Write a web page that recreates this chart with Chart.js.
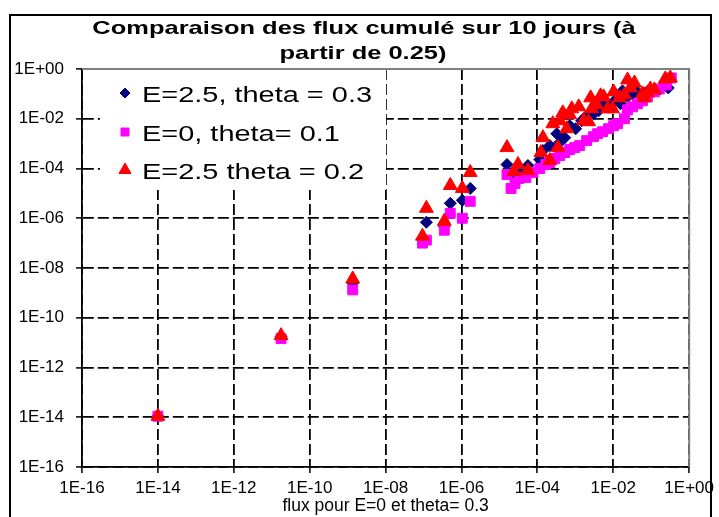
<!DOCTYPE html>
<html><head><meta charset="utf-8">
<script src="https://cdn.jsdelivr.net/npm/chart.js@4/dist/chart.umd.min.js"></script>
<style>html,body{margin:0;padding:0;background:#fff;}canvas{display:block;}</style>
</head><body>
<canvas id="c" width="719" height="517"></canvas>
<script>
const titleLines = ['Comparaison des flux cumulé sur 10 jours (à', 'partir de 0.25)'];
const xAxisTitle = 'flux pour E=0 et theta= 0.3';
const seriesNames = ['E=2.5, theta = 0.3', 'E=0, theta= 0.1', 'E=2.5 theta = 0.2'];
const tickValues = [1e-16, 1e-14, 1e-12, 1e-10, 1e-8, 1e-6, 1e-4, 1e-2, 1];
const tickLabels = ['1E-16', '1E-14', '1E-12', '1E-10', '1E-08', '1E-06', '1E-04', '1E-02', '1E+00'];

const blueX = [1e-14, 1.76e-11, 1.36e-9, 9.35e-8, 1.19e-7, 3.53e-7, 5.07e-7, 1.05e-6, 1.7e-6, 1.58e-5, 2.42e-5, 3.48e-5, 5.64e-5, 1.16e-4, 1.40e-4, 2.13e-4, 3.25e-4, 3.89e-4, 5.27e-4, 7.13e-4, 1.02e-3, 1.47e-3, 1.87e-3, 3.03e-3, 4.10e-3, 5.55e-3, 7.52e-3, 1.02e-2, 1.55e-2, 1.75e-2, 2.37e-2, 3.20e-2, 4.33e-2, 7.01e-2, 0.107, 0.173, 0.281];
const blueY = [1.1e-14, 1.74e-11, 2.51e-9, 1.45e-7, 6.92e-7, 4.79e-7, 3.98e-6, 5.25e-6, 1.58e-5, 1.45e-4, 4.79e-5, 1e-4, 1.32e-4, 2.29e-4, 5.25e-4, 8.32e-4, 2.51e-3, 1.10e-3, 1.74e-3, 5.25e-3, 3.98e-3, 8.32e-3, 1.20e-2, 1.58e-2, 2.09e-2, 3.63e-2, 3.02e-2, 4.79e-2, 3.98e-2, 0.132, 7.59e-2, 0.1, 0.120, 0.110, 0.132, 0.158, 0.174];

const pinkX = [1e-14, 1.76e-11, 1.36e-9, 9.35e-8, 1.19e-7, 3.53e-7, 5.07e-7, 1.05e-6, 1.7e-6, 1.58e-5, 2.02e-5, 2.57e-5, 3.27e-5, 5.0e-5, 7.62e-5, 1.16e-4, 1.67e-4, 2.13e-4, 2.88e-4, 3.89e-4, 5.27e-4, 7.13e-4, 9.64e-4, 1.30e-3, 1.99e-3, 3.03e-3, 3.86e-3, 5.22e-3, 7.52e-3, 1.02e-2, 1.29e-2, 1.97e-2, 2.37e-2, 3.20e-2, 4.33e-2, 5.85e-2, 7.91e-2, 0.121, 0.163, 0.249, 0.337];
const pinkY = [1.1e-14, 1.45e-11, 1.32e-9, 1e-7, 1.32e-7, 3.31e-7, 1.58e-6, 1e-6, 4.79e-6, 5.75e-5, 1.58e-5, 2.51e-5, 3.98e-5, 4.37e-5, 6.92e-5, 1e-4, 1.45e-4, 1.74e-4, 2.51e-4, 3.31e-4, 4.37e-4, 5.75e-4, 6.92e-4, 8.32e-4, 1.32e-3, 1.91e-3, 2.51e-3, 3.02e-3, 3.98e-3, 5.25e-3, 6.31e-3, 1e-2, 2.29e-2, 3.02e-2, 3.98e-2, 5.25e-2, 7.59e-2, 0.120, 0.158, 0.229, 0.437];

const redX = [1e-14, 1.76e-11, 1.36e-9, 9.35e-8, 1.19e-7, 3.53e-7, 5.07e-7, 1.05e-6, 1.7e-6, 1.58e-5, 2.42e-5, 3.08e-5, 5.64e-5, 1.24e-4, 1.40e-4, 2.13e-4, 2.55e-4, 3.45e-4, 3.89e-4, 4.67e-4, 5.94e-4, 7.13e-4, 8.04e-4, 1.23e-3, 1.66e-3, 2.24e-3, 2.53e-3, 2.69e-3, 3.64e-3, 4.63e-3, 5.55e-3, 7.06e-3, 9.55e-3, 1.02e-2, 1.46e-2, 1.97e-2, 2.37e-2, 2.83e-2, 3.61e-2, 5.85e-2, 6.61e-2, 7.91e-2, 9.48e-2, 0.121, 0.234, 0.318];
const redY = [1.1e-14, 1.91e-11, 3.63e-9, 1.91e-7, 2.51e-6, 7.59e-7, 2.09e-5, 1.58e-5, 6.92e-5, 6.92e-4, 7.59e-5, 1.45e-4, 8.32e-5, 4.37e-4, 1.74e-3, 2.09e-4, 6.31e-3, 6.92e-4, 8.32e-3, 1.74e-2, 3.98e-3, 1.45e-2, 2.51e-2, 3.02e-2, 8.32e-3, 7.59e-3, 6.92e-2, 2.51e-2, 3.63e-2, 8.32e-2, 7.59e-2, 2.51e-2, 2.51e-2, 0.120, 6.92e-2, 9.12e-2, 0.363, 0.174, 0.275, 0.1, 6.92e-2, 0.110, 0.158, 0.145, 0.398, 0.437];

const toPts = (xs, ys) => xs.map((x, i) => ({x: x, y: ys[i]}));
const FONT = '"Liberation Sans", Arial, Helvetica, sans-serif';

const decorPlugin = {
  id: 'decor',
  beforeDraw(chart) {
    const ctx = chart.ctx;
    ctx.save();
    ctx.fillStyle = '#ffffff';
    ctx.fillRect(0, 0, chart.width, chart.height);
    ctx.restore();
  },
  beforeDatasetsDraw(chart) {
    const {ctx, chartArea: a} = chart;
    ctx.save();
    ctx.strokeStyle = '#808080';
    ctx.lineWidth = 2;
    ctx.beginPath();
    ctx.moveTo(a.left, a.top);
    ctx.lineTo(a.right, a.top);
    ctx.lineTo(a.right, a.bottom);
    ctx.stroke();
    ctx.fillStyle = '#ffffff';
    ctx.fillRect(100, a.top + 1, 286, 120);
    ctx.restore();
  },
  afterDraw(chart) {
    const ctx = chart.ctx;
    ctx.save();
    ctx.fillStyle = '#000';
    ctx.font = 'bold 19px ' + FONT;
    ctx.textAlign = 'center';
    ctx.textBaseline = 'alphabetic';
    const tpos = [[364, 34], [363, 59]];
    titleLines.forEach((t, i) => {
      ctx.save();
      ctx.translate(tpos[i][0], tpos[i][1]);
      ctx.scale(1.34, 1);
      ctx.fillText(t, 0, 0);
      ctx.restore();
    });
    ctx.font = '22px ' + FONT;
    ctx.textAlign = 'left';
    const rows = [93, 132, 170];
    const ds = chart.data.datasets;
    rows.forEach((cy, i) => {
      const d = ds[i];
      ctx.fillStyle = d.backgroundColor;
      ctx.strokeStyle = d.borderColor;
      ctx.lineWidth = 1;
      ctx.beginPath();
      const cx = 125;
      if (d.pointStyle === 'rectRot') {
        const r = 5;
        ctx.moveTo(cx - r, cy); ctx.lineTo(cx, cy - r); ctx.lineTo(cx + r, cy); ctx.lineTo(cx, cy + r);
      } else if (d.pointStyle === 'rect') {
        ctx.rect(cx - 4, cy - 4, 8, 8);
      } else {
        const r = 7;
        ctx.moveTo(cx, cy - r); ctx.lineTo(cx + 0.866 * r, cy + 0.5 * r); ctx.lineTo(cx - 0.866 * r, cy + 0.5 * r);
      }
      ctx.closePath();
      ctx.fill();
      ctx.stroke();
      ctx.fillStyle = '#000';
      ctx.save();
      ctx.translate(142, cy + 8.5);
      ctx.scale(1.315, 1);
      ctx.fillText(seriesNames[i], 0, 0);
      ctx.restore();
    });
    ctx.strokeStyle = '#000';
    ctx.lineWidth = 2;
    ctx.strokeRect(10, 15, 701, 530);
    ctx.restore();
  }
};

const axisCommon = {
  type: 'logarithmic',
  min: 1e-16,
  max: 1,
  afterBuildTicks: (scale) => { scale.ticks = tickValues.map(v => ({value: v})); },
  grid: { color: '#000', lineWidth: 1.8, tickLength: 6, tickColor: '#000', tickWidth: 1.5, tickBorderDash: [] },
  border: { color: '#000', width: 1.8, dash: [11, 4] }
};

new Chart(document.getElementById('c'), {
  type: 'scatter',
  data: {
    datasets: [
      { label: seriesNames[0], data: toPts(blueX, blueY), pointStyle: 'rectRot', pointRadius: 6, backgroundColor: '#000080', borderColor: '#000080', borderWidth: 1, order: 3 },
      { label: seriesNames[1], data: toPts(pinkX, pinkY), pointStyle: 'rect', pointRadius: 7, backgroundColor: '#ff00ff', borderColor: '#ff00ff', borderWidth: 1, order: 2 },
      { label: seriesNames[2], data: toPts(redX, redY), pointStyle: 'triangle', pointRadius: 8, backgroundColor: '#ff0000', borderColor: '#ff0000', borderWidth: 1, order: 1 }
    ]
  },
  options: {
    responsive: false,
    animation: false,
    devicePixelRatio: 1,
    layout: { padding: { left: 0, right: 27, top: 69, bottom: 0 } },
    plugins: { legend: { display: false }, tooltip: { enabled: false }, title: { display: false } },
    scales: {
      x: Object.assign({}, axisCommon, {
        position: 'bottom',
        afterFit: (s) => { s.height = 50; },
        ticks: { autoSkip: false, maxRotation: 0, padding: 5, color: '#000', font: { family: FONT, size: 17 }, callback: (v, i) => tickLabels[i] },
        title: { display: true, text: xAxisTitle, color: '#000', font: { family: FONT, size: 17.5 }, padding: { top: 0, bottom: 0 } }
      }),
      y: Object.assign({}, axisCommon, {
        position: 'left',
        afterFit: (s) => { s.width = 82; },
        ticks: { autoSkip: false, padding: 12, color: '#000', font: { family: FONT, size: 17 }, callback: (v, i) => tickLabels[i] }
      })
    }
  },
  plugins: [decorPlugin]
});
</script>
</body></html>
